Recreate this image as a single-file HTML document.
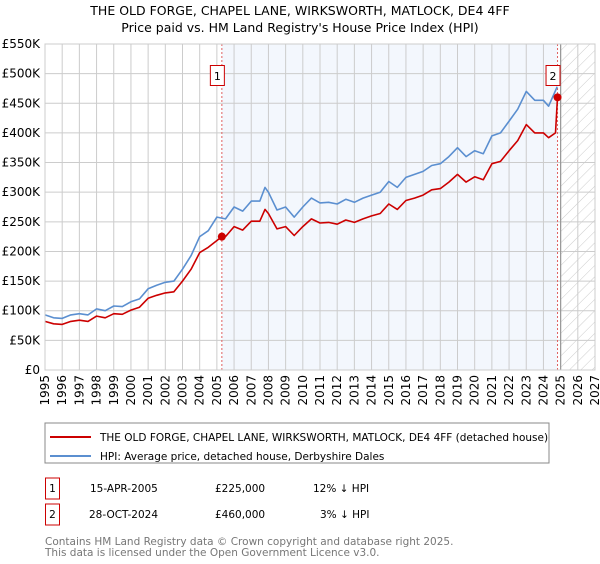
<!DOCTYPE html>
<html><head><meta charset="utf-8"><style>
body{margin:0;background:#fff;font-family:"DejaVu Sans","Liberation Sans",sans-serif;}
svg text{font-family:"DejaVu Sans","Liberation Sans",sans-serif;}
</style></head><body>
<svg id="c" width="600" height="560" xmlns="http://www.w3.org/2000/svg">
<defs><pattern id="hatch" width="8" height="8" patternUnits="userSpaceOnUse" patternTransform="rotate(45)"><line x1="0" y1="0" x2="0" y2="8" stroke="#ccc" stroke-width="1"/></pattern></defs>
<text x="300" y="15" text-anchor="middle" font-size="12.5" fill="#000">THE OLD FORGE, CHAPEL LANE, WIRKSWORTH, MATLOCK, DE4 4FF</text>
<text x="300" y="32" text-anchor="middle" font-size="12.5" fill="#000">Price paid vs. HM Land Registry's House Price Index (HPI)</text>
<g id="plot"></g>
<rect x="45" y="423" width="504" height="40" fill="#fff" stroke="#888"/>
<line x1="50" y1="437" x2="91" y2="437" stroke="#cc0000" stroke-width="2"/>
<text x="100" y="441" font-size="10.5">THE OLD FORGE, CHAPEL LANE, WIRKSWORTH, MATLOCK, DE4 4FF (detached house)</text>
<line x1="50" y1="456" x2="91" y2="456" stroke="#5b8fd0" stroke-width="2"/>
<text x="100" y="460" font-size="10.5">HPI: Average price, detached house, Derbyshire Dales</text>
<g>
<rect x="45.5" y="478" width="14" height="21" fill="#fff" stroke="#cc0000"/><text x="52.5" y="492" text-anchor="middle" font-size="10.5">1</text>
<text x="90" y="492" font-size="10.5">15-APR-2005</text><text x="215" y="492" font-size="10.5">£225,000</text><text x="313" y="492" font-size="10.5">12% ↓ HPI</text></g>
<g>
<rect x="45.5" y="504" width="14" height="21" fill="#fff" stroke="#cc0000"/><text x="52.5" y="518" text-anchor="middle" font-size="10.5">2</text>
<text x="89" y="518" font-size="10.5">28-OCT-2024</text><text x="215" y="518" font-size="10.5">£460,000</text><text x="320" y="518" font-size="10.5">3% ↓ HPI</text></g>
<text x="45" y="545" font-size="10.5" fill="#777">Contains HM Land Registry data © Crown copyright and database right 2025.</text>
<text x="45" y="556" font-size="10.5" fill="#777">This data is licensed under the Open Government Licence v3.0.</text>
</svg>
<script>
const hpiYears=[1995,1995.5,1996,1996.5,1997,1997.5,1998,1998.5,1999,1999.5,2000,2000.5,2001,2001.5,2002,2002.5,2003,2003.5,2004,2004.5,2005,2005.5,2006,2006.5,2007,2007.5,2007.8,2008,2008.5,2009,2009.5,2010,2010.5,2011,2011.5,2012,2012.5,2013,2013.5,2014,2014.5,2015,2015.5,2016,2016.5,2017,2017.5,2018,2018.5,2019,2019.5,2020,2020.5,2021,2021.5,2022,2022.5,2023,2023.5,2024,2024.3,2024.8];
const hpiValues=[93,88,87,93,95,93,103,100,108,107,115,120,137,143,148,150,170,193,225,235,258,255,275,268,285,285,308,300,270,275,258,275,290,282,283,280,288,283,290,295,300,318,308,325,330,335,345,348,360,375,360,370,365,395,400,420,440,470,455,455,445,478];
const priceYears=[1995,1995.5,1996,1996.5,1997,1997.5,1998,1998.5,1999,1999.5,2000,2000.5,2001,2001.5,2002,2002.5,2003,2003.5,2004,2004.5,2005.29,2005.5,2006,2006.5,2007,2007.5,2007.8,2008,2008.5,2009,2009.5,2010,2010.5,2011,2011.5,2012,2012.5,2013,2013.5,2014,2014.5,2015,2015.5,2016,2016.5,2017,2017.5,2018,2018.5,2019,2019.5,2020,2020.5,2021,2021.5,2022,2022.5,2023,2023.5,2024,2024.3,2024.7,2024.82];
const priceValues=[82,78,77,82,84,82,91,88,95,94,101,106,121,126,130,132,150,170,198,207,225,225,242,236,251,251,271,264,238,242,227,242,255,248,249,246,253,249,255,260,264,280,271,286,290,295,304,306,317,330,317,326,321,348,352,370,387,414,400,400,392,400,460];
const yTicks=[0,50,100,150,200,250,300,350,400,450,500,550];
const yTickLabels=["£0","£50K","£100K","£150K","£200K","£250K","£300K","£350K","£400K","£450K","£500K","£550K"];
const xTicks=[1995,1996,1997,1998,1999,2000,2001,2002,2003,2004,2005,2006,2007,2008,2009,2010,2011,2012,2013,2014,2015,2016,2017,2018,2019,2020,2021,2022,2023,2024,2025,2026,2027];
const sales=[{n:"1",t:2005.29,v:225},{n:"2",t:2024.82,v:460}];
const X0=45,X1=595,Y0=370,Y1=44;
const x=t=>X0+(t-1995)/32*(X1-X0);
const y=v=>Y0-v/550*(Y0-Y1);
const NS="http://www.w3.org/2000/svg";
const g=document.getElementById('plot');
function mk(tag,a,parent){const e=document.createElementNS(NS,tag);for(const k in a)e.setAttribute(k,a[k]);(parent||g).appendChild(e);return e;}
let e;
e=mk('rect',{x:x(2005.29),y:Y1,width:x(2024.82)-x(2005.29),height:Y0-Y1,fill:'#eef3fc',opacity:0.7});


e=mk('rect',{x:x(2025),y:Y1,width:X1-x(2025),height:Y0-Y1,fill:'url(#hatch)'});


yTicks.forEach((v,i)=>{
 e=mk('line',{x1:X0,x2:X1,y1:y(v),y2:y(v),stroke:'#ccc','stroke-width':1});
 
 
 e=mk('text',{x:40,y:y(v)+4,'text-anchor':'end','font-size':'12'});e.textContent=yTickLabels[i];
 
 
});
xTicks.forEach(t=>{
 e=mk('line',{x1:x(t),x2:x(t),y1:Y1,y2:Y0,stroke:'#ccc','stroke-width':1});
 
 
 e=mk('text',{x:0,y:0,'font-size':'12','text-anchor':'end',transform:`translate(${x(t)+4},${Y0+5}) rotate(-90)`});e.textContent=t;
 
 
});
e=mk('line',{x1:x(2025),x2:x(2025),y1:Y1,y2:Y0,stroke:'#999','stroke-width':1.2});


sales.forEach(s=>{
 e=mk('line',{x1:x(s.t),x2:x(s.t),y1:Y1,y2:Y0,stroke:'#e06060','stroke-width':1,'stroke-dasharray':'2,2'});
 
 
});
function path(xs,vs,col,name){
 const d=xs.map((t,i)=>(i?'L':'M')+x(t).toFixed(1)+','+y(vs[i]).toFixed(1)).join('');
 e=mk('path',{d:d,fill:'none',stroke:col,'stroke-width':1.6,'stroke-linejoin':'round'});
 
 
}
path(hpiYears,hpiValues,'#5b8fd0','hpi-line');
path(priceYears,priceValues,'#cc0000','price-line');
sales.forEach(s=>{
 e=mk('circle',{cx:x(s.t),cy:y(s.v),r:4,fill:'#cc0000'});
 
 
 e=mk('rect',{x:x(s.t)-11.5,y:65.5,width:14,height:20,fill:'#fff',stroke:'#cc0000'});
 
 
 e=mk('text',{x:x(s.t)-4.5,y:80,'text-anchor':'middle','font-size':'11'});e.textContent=s.n;
 
 
});
e=mk('rect',{x:X0,y:Y1,width:X1-X0,height:Y0-Y1,fill:'none',stroke:'#ccc'});


</script>
</body></html>
